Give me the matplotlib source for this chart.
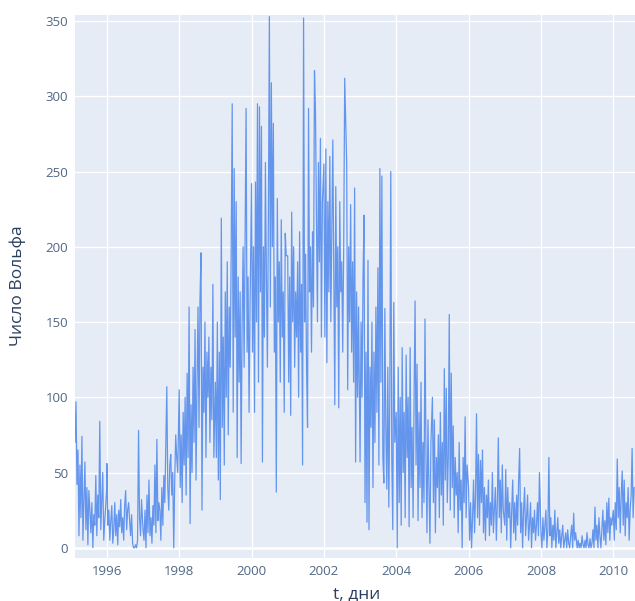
import matplotlib
matplotlib.use("Agg")
import matplotlib.pyplot as plt
import numpy as np

plt.rcParams['font.family'] = ['Open Sans', 'DejaVu Sans']

# Sunspot (Wolf) number, read roughly every ~10 days, grouped by year
start_1995 = 1995.12
v1995 = [70, 97, 42, 65, 8, 55, 20, 74, 5, 30, 57, 12, 40, 2, 38, 25, 10, 30, 0, 22, 15,
         48, 8, 35, 20, 84, 12, 30, 50, 5, 18, 28, 40]
v1996 = [56, 15, 25, 5, 18, 28, 3, 12, 30, 8, 22, 2, 25, 14, 32, 10, 20, 5, 28, 38, 12, 25,
         30, 18, 8, 22, 3, 0, 0, 2, 0, 5, 78, 20, 8, 32]
v1997 = [12, 5, 25, 0, 35, 10, 45, 8, 20, 3, 28, 15, 55, 10, 72, 18, 30, 25, 5, 40, 15, 48,
         30, 70, 107, 40, 25, 55, 62, 35, 50, 0, 45, 75, 60, 50]
v1998 = [105, 40, 75, 30, 90, 55, 100, 35, 116, 60, 160, 16, 95, 50, 120, 70, 145, 45, 110,
         160, 80, 165, 196, 25, 120, 90, 150, 60, 130, 100, 140, 70, 120, 85, 175, 60]
v1999 = [110, 60, 150, 45, 130, 32, 219, 80, 140, 55, 170, 100, 190, 75, 160, 120, 200, 295,
         90, 252, 140, 230, 60, 180, 110, 170, 56, 150, 200, 120, 210, 292, 130, 180, 90, 160]
v2000 = [242, 130, 200, 90, 243, 150, 295, 110, 293, 170, 280, 57, 200, 140, 256, 180, 120,
         220, 353, 160, 309, 200, 282, 130, 180, 37, 232, 150, 190, 110, 218, 140, 170, 90,
         209, 194]
v2001 = [194, 110, 180, 88, 223, 150, 200, 120, 170, 140, 190, 100, 210, 130, 175, 55, 352,
         150, 195, 120, 80, 292, 170, 200, 130, 210, 160, 317, 290, 220, 150, 256, 190, 272,
         140, 230]
v2002 = [255, 140, 265, 123, 230, 170, 260, 150, 210, 271, 180, 95, 240, 160, 200, 93, 230,
         170, 190, 130, 200, 312, 283, 255, 105, 200, 150, 228, 130, 190, 110, 239, 57, 170,
         100, 160]
v2003 = [57, 150, 100, 180, 221, 30, 130, 17, 191, 12, 120, 80, 150, 40, 130, 70, 160, 90,
         186, 55, 252, 110, 247, 60, 43, 159, 80, 39, 120, 27, 100, 250, 60, 12, 163, 70]
v2004 = [90, 0, 120, 30, 100, 15, 133, 50, 90, 20, 128, 60, 100, 14, 133, 40, 80, 20, 100,
         164, 55, 122, 18, 90, 40, 110, 20, 70, 30, 152, 60, 10, 85, 40, 3, 70]
v2005 = [100, 30, 85, 10, 60, 40, 75, 20, 90, 35, 70, 15, 119, 45, 106, 30, 60, 155, 25, 116,
         40, 81, 20, 60, 35, 50, 10, 70, 25, 45, 0, 60, 30, 87, 20, 55]
v2006 = [40, 5, 30, 0, 20, 45, 10, 35, 89, 20, 62, 15, 58, 30, 65, 10, 40, 5, 35, 20, 45, 8,
         30, 15, 50, 10, 25, 40, 5, 30, 73, 20, 45, 10, 55, 25]
v2007 = [15, 52, 5, 40, 20, 30, 0, 25, 45, 10, 30, 5, 35, 15, 45, 66, 10, 30, 0, 25, 40, 8,
         20, 35, 5, 15, 30, 0, 20, 10, 25, 5, 15, 30, 8, 50]
v2008 = [10, 0, 20, 5, 15, 25, 0, 12, 60, 8, 20, 0, 15, 5, 25, 0, 10, 20, 3, 12, 0, 8, 15, 0,
         5, 10, 0, 12, 3, 0, 8, 15, 0, 23, 5, 10]
v2009 = [0, 5, 0, 3, 0, 8, 2, 0, 5, 0, 10, 2, 0, 6, 0, 3, 12, 0, 27, 5, 15, 0, 20, 8, 0, 12,
         25, 5, 18, 2, 30, 10, 33, 5, 20, 15]
v2010 = [25, 5, 30, 12, 59, 20, 40, 10, 35, 51, 15, 45, 8, 30, 20, 40, 5, 25, 35, 66, 20, 40]

yearly = {1996: v1996, 1997: v1997, 1998: v1998, 1999: v1999, 2000: v2000, 2001: v2001,
          2002: v2002, 2003: v2003, 2004: v2004, 2005: v2005, 2006: v2006, 2007: v2007,
          2008: v2008, 2009: v2009, 2010: v2010}

x_ticks = [1996, 1998, 2000, 2002, 2004, 2006, 2008, 2010]
y_ticks = [0, 50, 100, 150, 200, 250, 300, 350]

step = 1 / 36.5
xs = [start_1995 + i * step for i in range(len(v1995))]
ys = list(v1995)
for yr, vals in yearly.items():
    xs += [yr + i * step for i in range(len(vals))]
    ys += vals

fig = plt.figure(figsize=(6.35, 6.01), dpi=100)
ax = fig.add_axes([75 / 635, 1 - 558 / 601, 560 / 635, 543 / 601])
ax.set_facecolor('#E5ECF6')
ax.plot(xs, ys, color='#6495ED', lw=0.9, zorder=3)

ax.set_xlim(1995.12, 2010.6)
ax.set_ylim(-6.8, 354)
ax.set_xticks(x_ticks)
ax.set_xticklabels([str(t) for t in x_ticks])
ax.set_yticks(y_ticks)
ax.grid(True, color='white', lw=1.0, zorder=1)
ax.axhline(0, color='white', lw=1.8, zorder=2)
for s in ax.spines.values():
    s.set_visible(False)
ax.tick_params(length=0, colors='#506784', labelsize=9.5, pad=5)
for lab in ax.get_xticklabels() + ax.get_yticklabels():
    lab.set_color('#506784')

fig.text(357 / 635, 1 - 594 / 601, 't, дни', ha='center', va='center', fontsize=12.5,
         color='#2a3f5f')
fig.text(18 / 635, 1 - 286 / 601, 'Число Вольфа', ha='center', va='center', rotation=90,
         fontsize=12.5, color='#2a3f5f')

fig.savefig('out.png', dpi=100)
